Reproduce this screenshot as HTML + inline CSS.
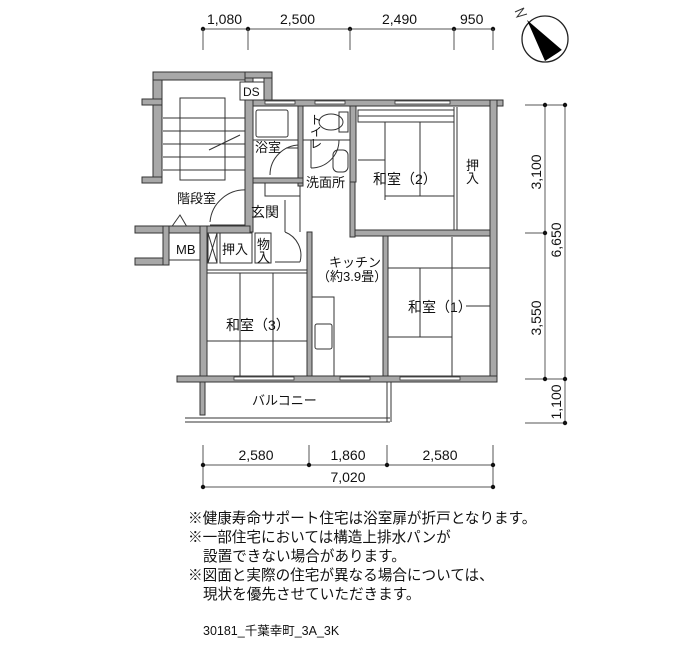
<!DOCTYPE html>
<html><head><meta charset="utf-8"><style>
body{margin:0;background:#fff;width:700px;height:650px;overflow:hidden}
svg{display:block}
text{font-family:"Liberation Sans","Noto Sans CJK JP",sans-serif;fill:#111}
.w{fill:#a8a8a8;stroke:#333;stroke-width:1}
.l{stroke:#333;stroke-width:1;fill:none}
.d{stroke:#777;stroke-width:1.2;fill:none}
.t{stroke:#555;stroke-width:1;fill:none}
</style></head><body>
<svg width="700" height="650" viewBox="0 0 700 650">
<!-- top dimensions -->
<line class="d" x1="203" y1="29" x2="493" y2="29"/>
<g fill="#111"><circle cx="203" cy="29" r="2.2"/><circle cx="248" cy="29" r="2.2"/><circle cx="350" cy="29" r="2.2"/><circle cx="454" cy="29" r="2.2"/><circle cx="493" cy="29" r="2.2"/></g>
<g class="t"><line x1="203" y1="29" x2="203" y2="50"/><line x1="248" y1="29" x2="248" y2="50"/><line x1="350" y1="29" x2="350" y2="50"/><line x1="454" y1="29" x2="454" y2="50"/><line x1="493" y1="29" x2="493" y2="50"/></g>
<g font-size="14"><text x="207" y="24">1,080</text><text x="280" y="24">2,500</text><text x="382" y="24">2,490</text><text x="460" y="24">950</text></g>
<!-- compass -->
<circle cx="545" cy="39" r="23" fill="#fff" stroke="#222" stroke-width="1.3"/>
<polygon points="527,20 562,50 545,61" fill="#000"/>
<polygon points="560,52 549,60 564,48" fill="#fff"/>
<path d="M515,12 L524,8 L517,17 L527,14" class="l" stroke-width="1.3"/>
<!-- right dims -->
<line class="d" x1="545" y1="105" x2="545" y2="379"/>
<line class="d" x1="565" y1="105" x2="565" y2="423"/>
<g class="t"><line x1="525" y1="105" x2="565" y2="105"/><line x1="525" y1="233" x2="545" y2="233"/><line x1="525" y1="379" x2="565" y2="379"/><line x1="525" y1="423" x2="565" y2="423"/></g>
<g fill="#111"><circle cx="545" cy="105" r="2.2"/><circle cx="565" cy="105" r="2.2"/><circle cx="545" cy="233" r="2.2"/><circle cx="545" cy="379" r="2.2"/><circle cx="565" cy="379" r="2.2"/><circle cx="565" cy="423" r="2.2"/></g>
<g font-size="14">
<text transform="translate(541,172) rotate(-90)" text-anchor="middle">3,100</text>
<text transform="translate(541,318) rotate(-90)" text-anchor="middle">3,550</text>
<text transform="translate(561,240) rotate(-90)" text-anchor="middle">6,650</text>
<text transform="translate(561,402) rotate(-90)" text-anchor="middle">1,100</text>
</g>
<!-- bottom dims -->
<line class="d" x1="203" y1="465" x2="493" y2="465"/>
<line class="d" x1="203" y1="487" x2="493" y2="487"/>
<g class="t"><line x1="203" y1="445" x2="203" y2="487"/><line x1="309" y1="445" x2="309" y2="465"/><line x1="387" y1="445" x2="387" y2="465"/><line x1="493" y1="445" x2="493" y2="487"/></g>
<g fill="#111"><circle cx="203" cy="465" r="2.2"/><circle cx="309" cy="465" r="2.2"/><circle cx="387" cy="465" r="2.2"/><circle cx="493" cy="465" r="2.2"/><circle cx="203" cy="487" r="2.2"/><circle cx="493" cy="487" r="2.2"/></g>
<g font-size="14" text-anchor="middle"><text x="256" y="460">2,580</text><text x="348" y="460">1,860</text><text x="440" y="460">2,580</text><text x="348" y="482">7,020</text></g>

<!-- floor plan lines -->
<g class="l">
<rect x="180" y="98" width="45" height="82"/>
<line x1="163" y1="118" x2="245" y2="118"/><line x1="163" y1="131" x2="245" y2="131"/><line x1="163" y1="144" x2="245" y2="144"/><line x1="163" y1="157" x2="245" y2="157"/><line x1="163" y1="170" x2="245" y2="170"/>
<line x1="209" y1="150" x2="240" y2="135"/>
<rect x="256" y="110" width="32" height="27" rx="2"/>
<line x1="253" y1="140" x2="300" y2="140"/>
<path d="M270,175 A30,30 0 0 1 300,145"/>
<line x1="286" y1="148" x2="300" y2="148"/>
<rect x="265" y="182" width="35" height="14"/>
<ellipse cx="331" cy="122" rx="12" ry="8"/><rect x="339" y="112" width="9" height="20"/>
<line x1="311" y1="140" x2="311" y2="168"/><path d="M311,168 A28,28 0 0 0 339,140"/>
<rect x="333" y="150" width="15" height="22" rx="5"/>
<line x1="303" y1="140" x2="350" y2="140"/>
<line x1="247" y1="196" x2="247" y2="225"/>
<path d="M210,222 A35,35 0 0 1 247,190"/>
<line x1="210" y1="225" x2="247" y2="225"/>
<line x1="285" y1="200" x2="285" y2="232"/>
<path d="M285,232 A25,25 0 0 1 300,262"/><line x1="275" y1="262" x2="300" y2="262"/>
<path d="M168,232 L180,215 L190,232"/>
<line x1="300" y1="180" x2="300" y2="232"/>
<rect x="358" y="110" width="96" height="12"/>
<line x1="358" y1="116" x2="454" y2="116"/>
<line x1="385" y1="122" x2="385" y2="200"/><line x1="420" y1="122" x2="420" y2="196"/>
<line x1="358" y1="160" x2="385" y2="160"/><line x1="385" y1="196" x2="454" y2="196"/>
<line x1="454" y1="107" x2="454" y2="233"/><line x1="457" y1="107" x2="457" y2="233"/>
<rect x="169" y="233" width="31" height="27"/>
<rect x="208" y="233" width="9" height="30"/><path d="M208,233 L217,263 M217,233 L208,263"/>
<rect x="220" y="233" width="32" height="30"/>
<rect x="255" y="233" width="16" height="30"/>
<line x1="207" y1="270" x2="307" y2="270"/><line x1="207" y1="273" x2="307" y2="273"/>
<line x1="240" y1="273" x2="240" y2="376"/><line x1="273" y1="273" x2="273" y2="376"/>
<line x1="207" y1="341" x2="307" y2="341"/>
<rect x="312" y="297" width="22" height="80"/>
<rect x="315" y="324" width="17" height="25" rx="2"/>
<line x1="388" y1="268" x2="490" y2="268"/><line x1="420" y1="268" x2="420" y2="337"/>
<line x1="388" y1="337" x2="452" y2="337"/>
<line x1="466" y1="306" x2="490" y2="306"/>
<line x1="452" y1="237" x2="452" y2="376"/>
<line x1="185" y1="418" x2="390" y2="418"/><line x1="185" y1="422" x2="390" y2="422"/>
<line x1="387" y1="382" x2="387" y2="422"/><line x1="391" y1="382" x2="391" y2="422"/>
</g>

<!-- walls -->
<g class="w">
<rect x="153" y="72" width="9" height="110"/>
<rect x="153" y="72" width="100" height="8"/>
<rect x="142" y="99" width="20" height="6"/>
<rect x="142" y="177" width="20" height="6"/>
<rect x="245" y="72" width="8" height="160"/>
<rect x="264" y="72" width="8" height="34"/>
<rect x="245" y="72" width="27" height="6"/>
<rect x="253" y="100" width="250" height="6"/>
<rect x="298" y="106" width="5" height="80"/>
<rect x="350" y="106" width="6" height="76"/>
<rect x="253" y="178" width="50" height="5"/>
<rect x="350" y="182" width="5" height="55"/>
<rect x="355" y="230" width="142" height="6"/>
<rect x="490" y="100" width="7" height="282"/>
<rect x="135" y="226" width="115" height="7"/>
<rect x="135" y="258" width="30" height="7"/>
<rect x="163" y="226" width="6" height="39"/>
<rect x="200" y="226" width="7" height="154"/>
<rect x="307" y="232" width="5" height="146"/>
<rect x="383" y="236" width="5" height="142"/>
<rect x="177" y="376" width="320" height="6"/>
<rect x="200" y="382" width="5" height="33"/>
</g>
<rect x="240" y="82" width="24" height="18" fill="#fff" stroke="#333" stroke-width="1"/>
<g fill="#fff" stroke="#333" stroke-width="0.8">
<rect x="265" y="101" width="30" height="3"/><rect x="315" y="101" width="30" height="3"/><rect x="395" y="101" width="55" height="3"/>
<rect x="234" y="377" width="60" height="3"/><rect x="340" y="377" width="30" height="3"/><rect x="400" y="377" width="60" height="3"/>
</g>
<g font-size="13">
<text x="243" y="96" font-size="12">DS</text>
<text x="255" y="152">浴室</text>
<text x="306" y="187">洗面所</text>
<text x="177" y="203">階段室</text>
<text x="251" y="217" font-size="14">玄関</text>
<text x="373" y="184" font-size="14">和室（2）</text>
<text x="176" y="254">MB</text>
<text x="222" y="254">押入</text>
<text x="329" y="267">キッチン</text>
<text x="317" y="281">（約3.9畳）</text>
<text x="226" y="330" font-size="14">和室（3）</text>
<text x="408" y="312" font-size="14">和室（1）</text>
<text x="252" y="405">バルコニー</text>
<text x="466" y="170">押</text><text x="466" y="183">入</text>
<text x="257" y="249">物</text><text x="257" y="262">入</text>
<text x="310" y="124" font-size="12">ト</text><text x="310" y="136" font-size="12">イ</text><text x="310" y="148" font-size="12">レ</text>
</g>
<g font-size="14.6">
<text x="188" y="523">※健康寿命サポート住宅は浴室扉が折戸となります。</text>
<text x="188" y="542">※一部住宅においては構造上排水パンが</text>
<text x="203" y="561">設置できない場合があります。</text>
<text x="188" y="580">※図面と実際の住宅が異なる場合については、</text>
<text x="203" y="599">現状を優先させていただきます。</text>
<text x="203" y="635" font-size="12.5">30181_千葉幸町_3A_3K</text>
</g>
</svg>
</body></html>
